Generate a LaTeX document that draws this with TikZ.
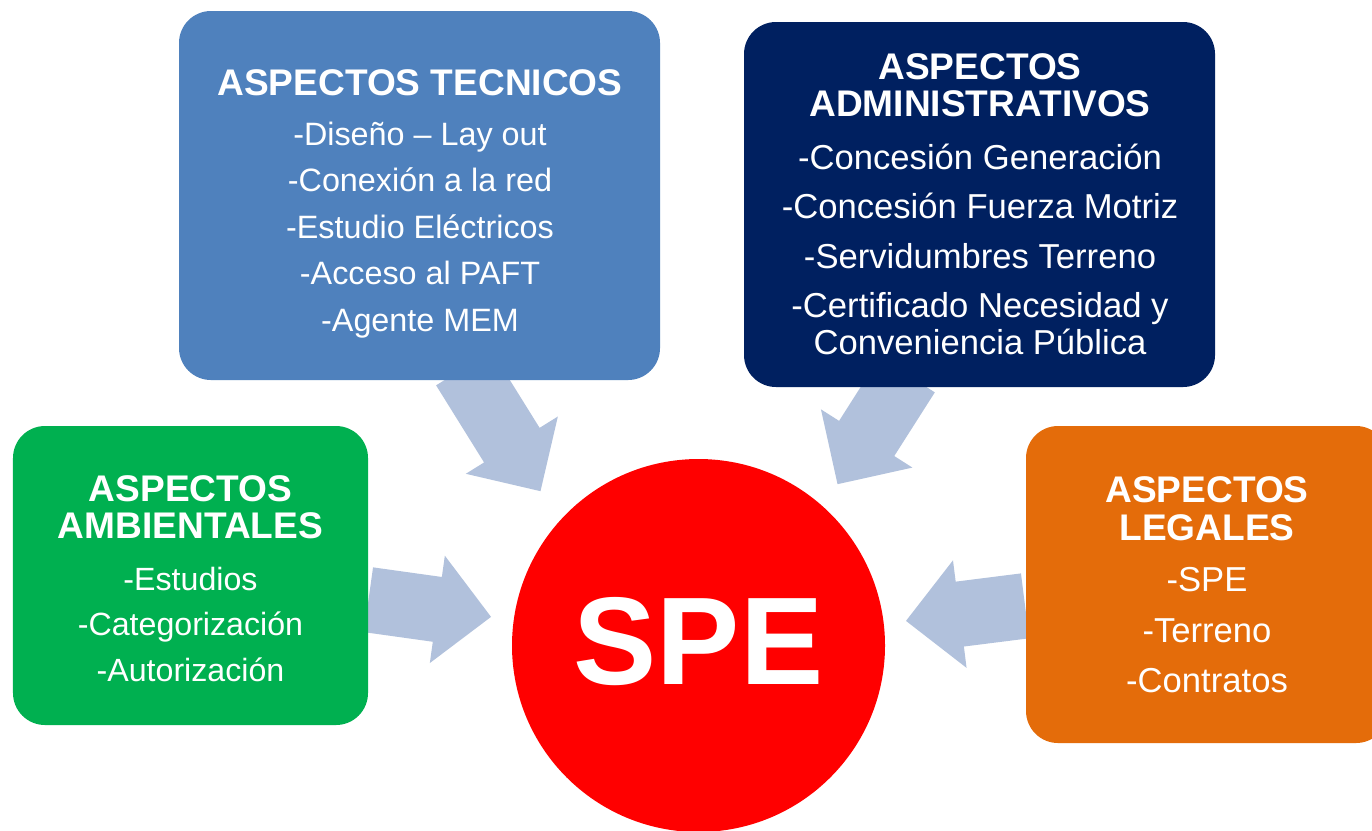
\documentclass[tikz,border=0pt]{standalone}
\usepackage{fontspec}
\setmainfont{Liberation Sans}
\usepackage{xcolor}
\usepackage{tikz}
\usetikzlibrary{shapes.arrows}

\definecolor{azultec}{HTML}{4F81BD}
\definecolor{azuladm}{HTML}{002060}
\definecolor{verdeamb}{HTML}{00B050}
\definecolor{naranjaleg}{HTML}{E46C0A}
\definecolor{rojospe}{HTML}{FF0000}
\definecolor{flechagris}{HTML}{B1C1DC}

\tikzset{
	caja/.style={rectangle, rounded corners=0.32cm, inner sep=0pt},
	flecha/.style={single arrow, fill=flechagris, inner xsep=0pt, inner ysep=0.32cm, minimum width=1.07cm, single arrow head extend=0.215cm, anchor=tip},
	linea/.style={text=white, anchor=base, inner sep=0pt, font=\fontsize{#1}{12}\selectfont},
	titulo/.style={text=white, anchor=base, inner sep=0pt, font=\fontsize{10.55}{12}\selectfont\bfseries}
}

\begin{document}
\begin{tikzpicture}
	\clip (0,0) rectangle (13.72,8.30);
	\fill[white] (0,0) rectangle (13.72,8.30);
	
	% flechas hacia el centro
	\node[flecha, minimum height=1.45cm, rotate=-58.1] (f1) at (5.41,3.38) {};
	\node[flecha, minimum height=1.297cm, rotate=-122.5] (f2) at (8.37,3.45) {};
	\node[flecha, minimum height=1.237cm, rotate=-7.96] (f3) at (4.92,2.13) {};
	\node[flecha, minimum height=1.20cm, rotate=187.2] (f4) at (9.05,2.09) {};
	
	% cajas
	\node[caja, fill=azultec, minimum width=4.81cm, minimum height=3.69cm] (tec) at (4.195,6.345) {};
	\node[caja, fill=azuladm, minimum width=4.71cm, minimum height=3.65cm] (adm) at (9.795,6.255) {};
	\node[caja, fill=verdeamb, minimum width=3.55cm, minimum height=2.99cm] (amb) at (1.905,2.545) {};
	\node[caja, fill=naranjaleg, minimum width=3.62cm, minimum height=3.17cm] (leg) at (12.07,2.455) {};
	\node[circle, fill=rojospe, minimum size=3.73cm, inner sep=0pt] (spe) at (6.985,1.845) {};
	\node[anchor=base, text=white, inner sep=0pt, font=\fontsize{35.5}{40}\selectfont\bfseries] (spetxt) at (6.985,1.46) {SPE};
	
	% aspectos tecnicos
	\node[titulo] (tec0) at (4.20,7.35) {ASPECTOS TECNICOS};
	\node[linea=9.2] (tec1) at (4.20,6.85) {-Diseño – Lay out};
	\node[linea=9.2] (tec2) at (4.20,6.385) {-Conexión a la red};
	\node[linea=9.2] (tec3) at (4.20,5.92) {-Estudio Eléctricos};
	\node[linea=9.2] (tec4) at (4.20,5.455) {-Acceso al PAFT};
	\node[linea=9.2] (tec5) at (4.20,4.99) {-Agente MEM};
	
	% aspectos administrativos
	\node[titulo] (adm0) at (9.80,7.51) {ASPECTOS};
	\node[titulo] (adm1) at (9.80,7.135) {ADMINISTRATIVOS};
	\node[linea=9.85] (adm2) at (9.80,6.61) {-Concesión Generación};
	\node[linea=9.85] (adm3) at (9.80,6.12) {-Concesión Fuerza Motriz};
	\node[linea=9.85] (adm4) at (9.80,5.62) {-Servidumbres Terreno};
	\node[linea=9.85] (adm5) at (9.80,5.13) {-Certificado Necesidad y};
	\node[linea=9.85] (adm6) at (9.80,4.76) {Conveniencia Pública};
	
	% aspectos ambientales
	\node[titulo] (amb0) at (1.905,3.285) {ASPECTOS};
	\node[titulo] (amb1) at (1.905,2.915) {AMBIENTALES};
	\node[linea=9.15] (amb2) at (1.905,2.40) {-Estudios};
	\node[linea=9.15] (amb3) at (1.905,1.95) {-Categorización};
	\node[linea=9.15] (amb4) at (1.905,1.49) {-Autorización};
	
	% aspectos legales
	\node[titulo] (leg0) at (12.07,3.275) {ASPECTOS};
	\node[titulo] (leg1) at (12.07,2.895) {LEGALES};
	\node[linea=9.85] (leg2) at (12.07,2.39) {-SPE};
	\node[linea=9.85] (leg3) at (12.07,1.88) {-Terreno};
	\node[linea=9.85] (leg4) at (12.07,1.38) {-Contratos};
\end{tikzpicture}
\end{document}
